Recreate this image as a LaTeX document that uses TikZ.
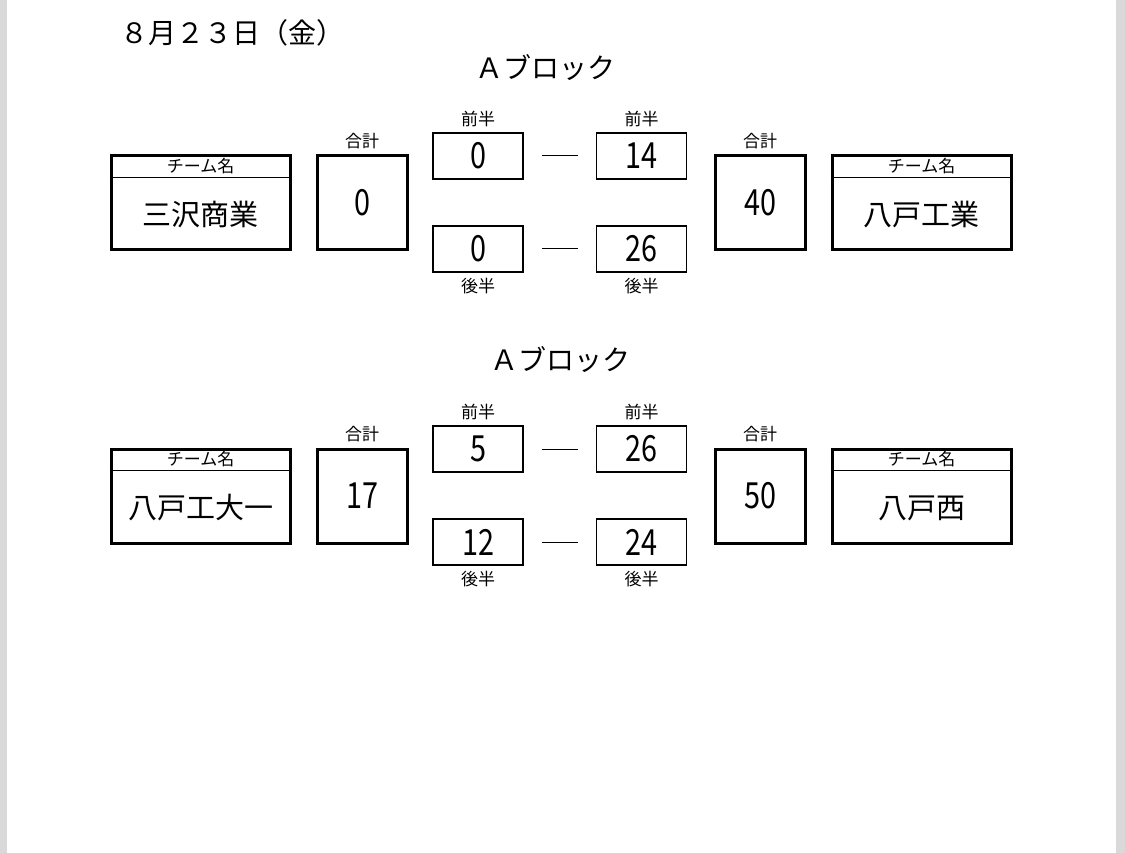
\documentclass[tikz,border=0pt]{standalone}
\usepackage{fontspec}
\setmainfont{Noto Sans CJK JP}
\usetikzlibrary{positioning}
\tikzset{
	team/.style={draw, line width=3pt, minimum width=179pt, minimum height=94pt, inner sep=0pt},
	total/.style={draw, line width=3pt, minimum width=90pt, minimum height=94pt, inner sep=0pt},
	half/.style={draw, line width=1.5pt, minimum width=90pt, minimum height=46pt, inner sep=0pt},
	score/.style={font=\fontsize{36}{36}\selectfont, xscale=0.8},
	small/.style={font=\fontsize{17}{17}\selectfont, inner sep=0pt},
	teamname/.style={font=\fontsize{29}{29}\selectfont, inner sep=0pt},
	heading/.style={font=\fontsize{28}{28}\selectfont, inner sep=0pt}
}
% one match: #1 y of box centres, #2 suffix, then data
\newcommand{\matchrow}[9]{
	\node[team]  (tl#2) at (200.5,#1) {};
	\draw[line width=1.5pt] ([yshift=-23pt]tl#2.north west) -- ([yshift=-23pt]tl#2.north east);
	\node[small] at ([yshift=-12pt]tl#2.north) {チーム名};
	\node[teamname] at ([yshift=-12pt]tl#2.center) {#3};
	\node[total] (sl#2) at (362,#1) {};
	\node[score] at (sl#2) {#4};
	\node[small, above=5pt of sl#2] {合計};
	\node[half]  (al#2) at (478,#1-47) {};
	\node[score] at (al#2) {#5};
	\node[small, above=5pt of al#2] {前半};
	\node[half]  (bl#2) at (478,#1+46) {};
	\node[score] at (bl#2) {#6};
	\node[small, below=5pt of bl#2] {後半};
	\node[half]  (ar#2) at (641.5,#1-47) {};
	\node[score] at (ar#2) {#7};
	\node[small, above=5pt of ar#2] {前半};
	\node[half]  (br#2) at (641.5,#1+46) {};
	\node[score] at (br#2) {#8};
	\node[small, below=5pt of br#2] {後半};
	\draw[line width=1pt] ([xshift=18pt]al#2.east) -- ([xshift=-18pt]ar#2.west);
	\draw[line width=1pt] ([xshift=18pt]bl#2.east) -- ([xshift=-18pt]br#2.west);
	\node[total] (sr#2) at (760,#1) {};
	\node[score] at (sr#2) {\matchtotal};
	\node[small, above=5pt of sr#2] {合計};
	\node[team]  (tr#2) at (921.5,#1) {};
	\draw[line width=1.5pt] ([yshift=-23pt]tr#2.north west) -- ([yshift=-23pt]tr#2.north east);
	\node[small] at ([yshift=-12pt]tr#2.north) {チーム名};
	\node[teamname] at ([yshift=-12pt]tr#2.center) {#9};
}
\begin{document}
\begin{tikzpicture}[x=1pt, y=-1pt]
	\useasboundingbox (0,0) rectangle (1125,853);
	\fill[black!15] (0,0) rectangle (7,853);
	\fill[black!15] (1116,0) rectangle (1125,853);
	\node[heading, anchor=west] (date) at (120,33) {８月２３日（金）};
	\node[heading] (blocka) at (545,68) {Ａブロック};
	\def\matchtotal{40}
	\matchrow{203}{a}{三沢商業}{0}{0}{0}{14}{26}{八戸工業}
	\node[heading] (blockb) at (560,360) {Ａブロック};
	\def\matchtotal{50}
	\matchrow{496}{b}{八戸工大一}{17}{5}{12}{26}{24}{八戸西}
\end{tikzpicture}
\end{document}
